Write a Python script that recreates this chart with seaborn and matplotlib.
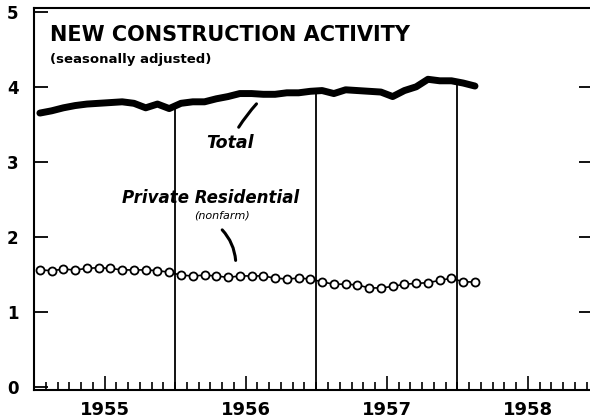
import numpy as np
import pandas as pd
import matplotlib
matplotlib.use("Agg")
import matplotlib.pyplot as plt
import seaborn as sns

sns.set_style("ticks")
plt.rcParams["font.family"] = ["DejaVu Sans"]
plt.rcParams.update({"text.color": "black", "axes.edgecolor": "black",
                     "xtick.color": "black", "ytick.color": "black",
                     "axes.labelcolor": "black"})

# monthly values, Jan 1955 - Feb 1958 (billions of dollars, seasonally adjusted)
months = pd.period_range("1955-01", "1958-02", freq="M")
total = [3.65, 3.68, 3.72, 3.75, 3.77, 3.78, 3.79, 3.80, 3.78, 3.72, 3.77, 3.71,
         3.78, 3.80, 3.80, 3.84, 3.87, 3.91, 3.91, 3.90, 3.90, 3.92, 3.92, 3.94,
         3.95, 3.91, 3.96, 3.95, 3.94, 3.93, 3.87, 3.95, 4.00, 4.10, 4.08, 4.08,
         4.05, 4.01]
private_res = [1.56, 1.55, 1.57, 1.56, 1.58, 1.59, 1.58, 1.56, 1.56, 1.56, 1.55, 1.53,
               1.49, 1.48, 1.49, 1.48, 1.46, 1.48, 1.48, 1.48, 1.45, 1.44, 1.45, 1.44,
               1.40, 1.37, 1.37, 1.36, 1.32, 1.32, 1.34, 1.37, 1.38, 1.39, 1.42, 1.45,
               1.40, 1.40]
year_labels = ["1955", "1956", "1957", "1958"]
year_breaks = [1956, 1957, 1958]

df = pd.DataFrame({
    "x": months.year + (months.month - 0.5) / 12,
    "Total": total,
    "Private": private_res,
})

fig = plt.figure(figsize=(5.9, 4.19), dpi=100)
ax = fig.add_axes([34 / 590, 29 / 419, 556 / 590, 382 / 419])

sns.lineplot(data=df, x="x", y="Total", color="black", lw=5, ax=ax,
             solid_capstyle="round", zorder=3)
sns.lineplot(data=df, x="x", y="Private", color="black", lw=1.2, marker="o",
             markersize=5.8, markerfacecolor="white", markeredgecolor="black",
             markeredgewidth=1.3, ax=ax, zorder=3)

ax.set_xlim(1955, 1958.94)
ax.set_ylim(-0.04, 5.05)

# year separators run up to the total line
tops = np.interp(year_breaks, df["x"], df["Total"])
ax.vlines(year_breaks, -0.04, tops, color="black", lw=1.3, zorder=2)

# ticks
ax.set_xticks([1955.5, 1956.5, 1957.5, 1958.5], year_labels,
              fontsize=13, fontweight="bold")
ax.set_xticks(np.arange(1955, 1959, 1 / 12), minor=True)
ax.tick_params(axis="x", which="major", direction="in", length=10, width=1.2, pad=8)
ax.tick_params(axis="x", which="minor", direction="in", length=5.5, width=1.2)
ax.set_yticks(range(6), [str(i) for i in range(6)], fontsize=12, fontweight="bold")
ax.tick_params(axis="y", direction="in", length=10, width=1.3, pad=11)

sec = ax.secondary_yaxis("right")
sec.set_yticks([1, 2, 3, 4])
sec.set_yticklabels([])
sec.tick_params(direction="in", length=8, width=1.3)
sec.spines["right"].set_visible(False)

for s in ["left", "bottom", "top"]:
    ax.spines[s].set_linewidth(1.5)
ax.spines["right"].set_visible(False)
ax.set_xlabel("")
ax.set_ylabel("")

# titles
ax.text(0.029, 0.929, "NEW CONSTRUCTION ACTIVITY", transform=ax.transAxes,
        fontsize=15, fontweight="bold", va="center", ha="left")
ax.text(0.029, 0.864, "(seasonally adjusted)", transform=ax.transAxes,
        fontsize=9.5, fontweight="bold", va="center", ha="left")

# series labels
ax.text(1956.39, 3.25, "Total", fontsize=12.5, style="italic", fontweight="bold",
        ha="center", va="center")
ax.annotate("", xy=(1956.59, 3.80), xytext=(1956.44, 3.43),
            arrowprops=dict(arrowstyle="-", lw=2.2, color="black",
                            connectionstyle="arc3,rad=-0.05"))
ax.text(1956.25, 2.52, "Private Residential", fontsize=12, style="italic",
        fontweight="semibold", ha="center", va="center")
ax.text(1956.33, 2.29, "(nonfarm)", fontsize=8, style="italic",
        ha="center", va="center")
ax.annotate("", xy=(1956.43, 1.65), xytext=(1956.32, 2.12),
            arrowprops=dict(arrowstyle="-", lw=2.2, color="black",
                            connectionstyle="arc3,rad=-0.2"))

fig.savefig("out.png", dpi=100)
